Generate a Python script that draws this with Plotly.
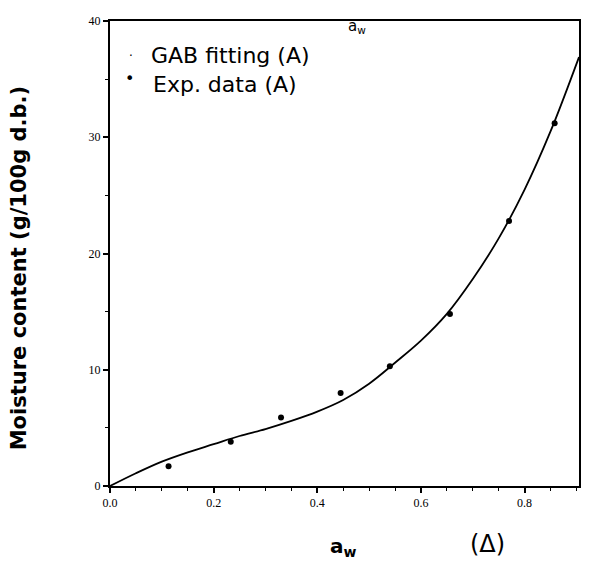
import plotly.graph_objects as go

# Experimental data (A)
aw_exp = [0.113, 0.233, 0.330, 0.445, 0.540, 0.656, 0.770, 0.858]
m_exp = [1.7, 3.8, 5.9, 8.0, 10.3, 14.8, 22.8, 31.2]

# GAB fitting curve
aw_fit = [0.0, 0.05, 0.10, 0.15, 0.20, 0.25, 0.30, 0.35, 0.40, 0.45, 0.50,
          0.55, 0.60, 0.65, 0.70, 0.75, 0.80, 0.85, 0.905]
m_fit = [0.0, 1.1, 2.1, 2.9, 3.6, 4.3, 4.9, 5.6, 6.4, 7.4, 8.8,
         10.6, 12.5, 14.8, 17.8, 21.3, 25.5, 30.5, 36.9]

x_ticks = [0.0, 0.2, 0.4, 0.6, 0.8]
x_tick_labels = ["0.0", "0.2", "0.4", "0.6", "0.8"]
y_ticks = [0, 10, 20, 30, 40]
y_tick_labels = ["0", "10", "20", "30", "40"]

# page has an 8px body margin, so the figure is sized to fit inside the window
W, H = 582, 555
L, R, T, B = 102, 11, 6, 77
PW, PH = W - L - R, H - T - B


def px(wx):
    """window x pixel -> paper x"""
    return (wx - 8 - L) / PW


def py(wy):
    """window y pixel -> paper y"""
    return 1 - (wy - 8 - T) / PH


fig = go.Figure()
fig.add_trace(go.Scatter(x=aw_fit, y=m_fit, mode="lines",
                         line=dict(color="black", width=1.8, shape="spline"),
                         name="GAB fitting (A)", showlegend=False))
fig.add_trace(go.Scatter(x=aw_exp, y=m_exp, mode="markers",
                         marker=dict(color="black", size=6),
                         name="Exp. data (A)", showlegend=False))

axis_common = dict(showline=True, linecolor="black", linewidth=2, mirror=True,
                   showgrid=False, zeroline=False, ticks="outside", ticklen=5,
                   tickwidth=1.5, tickcolor="black",
                   tickfont=dict(family="Liberation Serif", size=12, color="black"))

fig.update_xaxes(range=[0, 0.905], tickvals=x_ticks, ticktext=x_tick_labels,
                 minor=dict(ticks="outside", ticklen=3, tickcolor="black",
                            tickwidth=1, dtick=0.05),
                 **axis_common)
fig.update_yaxes(range=[0, 40], tickvals=y_ticks, ticktext=y_tick_labels,
                 minor=dict(ticks="outside", ticklen=3, tickcolor="black",
                            tickwidth=1, dtick=5),
                 **axis_common)

sans = "DejaVu Sans"
fig.add_annotation(xref="paper", yref="paper", x=px(19), y=py(265),
                   text="<b>Moisture content (g/100g d.b.)</b>", textangle=-90,
                   showarrow=False, xanchor="center", yanchor="middle",
                   font=dict(family=sans, size=21, color="black"))
fig.add_annotation(xref="paper", yref="paper", x=px(343), y=py(548),
                   text="<b>a<sub>w</sub></b>", showarrow=False,
                   xanchor="center", yanchor="middle",
                   font=dict(family=sans, size=20, color="black"))
fig.add_annotation(xref="paper", yref="paper", x=px(487), y=py(545),
                   text="(Δ)", showarrow=False, xanchor="center", yanchor="middle",
                   font=dict(family=sans, size=24, color="black"))
fig.add_annotation(xref="paper", yref="paper", x=px(357), y=py(8),
                   text="a<sub>w</sub>", showarrow=False,
                   xanchor="center", yanchor="top",
                   font=dict(family=sans, size=15, color="black"))
# legend
fig.add_annotation(xref="paper", yref="paper", x=px(149), y=py(49),
                   text="GAB fitting (A)", showarrow=False, xanchor="left",
                   yanchor="middle", font=dict(family=sans, size=22, color="black"))
fig.add_annotation(xref="paper", yref="paper", x=px(151), y=py(78),
                   text="Exp. data (A)", showarrow=False, xanchor="left",
                   yanchor="middle", font=dict(family=sans, size=22, color="black"))
fig.add_annotation(xref="paper", yref="paper", x=px(131), y=py(50),
                   text="·", showarrow=False, xanchor="center", yanchor="middle",
                   font=dict(family=sans, size=12, color="black"))
fig.add_annotation(xref="paper", yref="paper", x=px(129), y=py(72),
                   text="•", showarrow=False, xanchor="center", yanchor="middle",
                   font=dict(family=sans, size=16, color="black"))

fig.update_layout(width=W, height=H, plot_bgcolor="white", paper_bgcolor="white",
                  margin=dict(l=L, r=R, t=T, b=B), showlegend=False)

fig.write_html("out.html")
